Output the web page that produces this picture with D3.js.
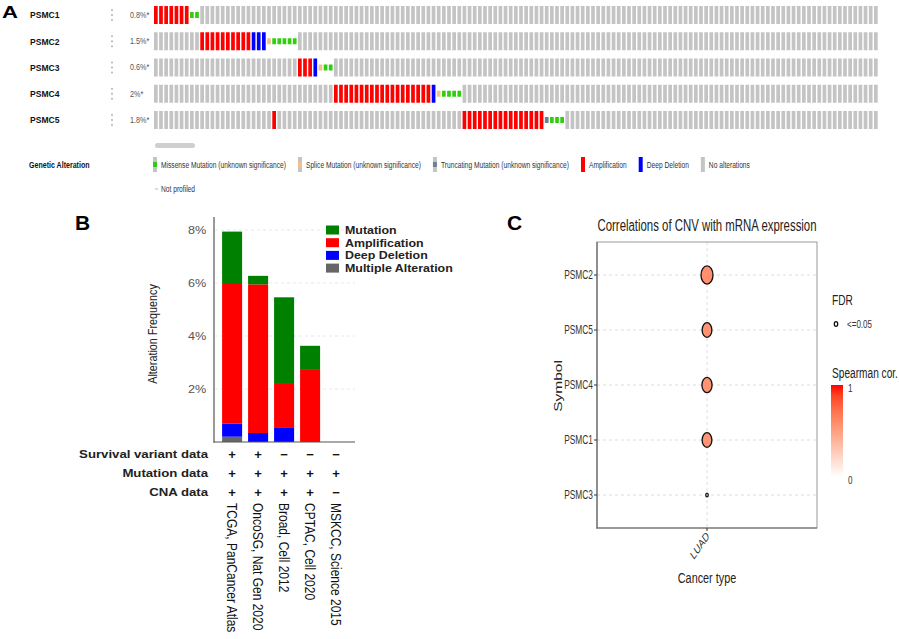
<!DOCTYPE html>
<html><head><meta charset="utf-8">
<script src="https://cdn.jsdelivr.net/npm/d3@7"></script>
<style>
body{margin:0;background:#fff}
svg{display:block;font-family:"Liberation Sans",Arial,Helvetica,sans-serif}
</style></head><body>
<script>
// ---- panel A data (oncoprint) ----
var genes = ['PSMC1','PSMC2','PSMC3','PSMC4','PSMC5'];
var genePct = ['0.8%*','1.5%*','0.6%*','2%*','1.8%*'];
var nSamples = 141;
// runs of altered samples per gene: [type, first sample, last sample]
var psmc1Runs = [['amp',0,6],['mis',7,8]];
var psmc2Runs = [['amp',9,18],['del',19,21],['spl',22,22],['mis',23,27]];
var psmc3Runs = [['amp',28,30],['del',31,31],['spl',32,32],['mis',33,34]];
var psmc4Runs = [['amp',35,53],['del',54,54],['spl',55,55],['mis',56,59]];
var psmc5Runs = [['amp',23,23],['amp',60,75],['trunc',76,76],['mis',77,79]];
var legendA = ['Missense Mutation (unknown significance)','Splice Mutation (unknown significance)','Truncating Mutation (unknown significance)','Amplification','Deep Deletion','No alterations'];

// ---- panel B data (cancer types summary) ----
var studies = ['TCGA, PanCancer Atlas','OncoSG, Nat Gen 2020','Broad, Cell 2012','CPTAC, Cell 2020','MSKCC, Science 2015'];
var multipleFreq = [0.2,0,0,0,0];
var deletionFreq = [0.5,0.34,0.53,0,0];
var ampFreq = [5.3,5.61,1.66,2.72,0];
var mutFreq = [1.94,0.32,3.27,0.91,0];
var freqTicks = [2,4,6,8];
var survivalData = ['+','+','\u2212','\u2212','\u2212'];
var mutationData = ['+','+','+','+','+'];
var cnaData = ['+','+','+','+','\u2212'];

// ---- panel C data (CNV vs mRNA) ----
var corGenes = ['PSMC2','PSMC5','PSMC4','PSMC1','PSMC3'];
var cancerTypes = ['LUAD'];
var spearman = [0.58,0.56,0.56,0.55,0.2];
var negLogFdr = [30,19.8,21.5,19.8,1.3];

var altColor = {amp:'#ff0000', del:'#0000ff', mis:'#2fcf10', spl:'#f5c08c', trunc:'#708090', none:'#c4c4c4'};

var svg = d3.select('body').append('svg').attr('width',899).attr('height',639);

// text with a horizontal squeeze/stretch, like the source figure
function label(g, x, y, s, sx, rot) {
	return g.append('text')
		.attr('transform','translate(' + x + ',' + y + ') scale(' + sx + ',1)' + (rot ? ' rotate(' + rot + ')' : ''))
		.text(s);
}

// ================= A =================
label(svg, 2, 18, 'A', 1.3).attr('font-size',17).attr('font-weight','bold');

var col = d3.scaleBand().domain(d3.range(nSamples)).range([154,877.7]).paddingInner(0.28);
var row = d3.scaleBand().domain(genes).range([1.9,133.1]).paddingInner(0.314).paddingOuter(0.157);

var runs = [psmc1Runs,psmc2Runs,psmc3Runs,psmc4Runs,psmc5Runs];
var cells = [];
genes.forEach(function(g,i){
	var byS = {};
	runs[i].forEach(function(r){ d3.range(r[1],r[2]+1).forEach(function(s){ byS[s] = r[0]; }); });
	d3.range(nSamples).forEach(function(s){ cells.push({gene:g, s:s, type:byS[s] || 'none'}); });
});

var pa = svg.append('g');
pa.selectAll('rect.cell').data(cells).enter().append('rect')
	.attr('class','cell')
	.attr('x',function(d){ return col(d.s); })
	.attr('width',col.bandwidth())
	.attr('y',function(d){ var full = d.type=='amp'||d.type=='del'||d.type=='none'; return full ? row(d.gene) : row(d.gene) + row.bandwidth()/3; })
	.attr('height',function(d){ var full = d.type=='amp'||d.type=='del'||d.type=='none'; return full ? row.bandwidth() : row.bandwidth()/3; })
	.attr('fill',function(d){ return altColor[d.type]; });

genes.forEach(function(g,i){
	var cy = row(g) + row.bandwidth()/2;
	label(pa, 30, cy, g, 0.92).attr('dy','0.35em').attr('font-size',9.3).attr('font-weight','bold').attr('fill','#111');
	label(pa, 130, cy, genePct[i], 0.85).attr('dy','0.35em').attr('font-size',8.5).attr('fill','#555');
	[-5,0,5].forEach(function(o){ pa.append('circle').attr('cx',112).attr('cy',cy+o).attr('r',0.9).attr('fill','#aaa'); });
});

pa.append('rect').attr('x',155).attr('y',143).attr('width',40).attr('height',5).attr('rx',2.5).attr('fill','#cfcfcf');

label(pa, 29, 165, 'Genetic Alteration', 0.76).attr('dy','0.35em').attr('font-size',9.3).attr('font-weight','bold').attr('fill','#111');
var lx = 153, legendTypes = ['mis','spl','trunc','amp','del','none'];
legendA.forEach(function(t,i){
	var ty = legendTypes[i];
	if (ty=='amp'||ty=='del'||ty=='none') {
		pa.append('rect').attr('x',lx).attr('y',157).attr('width',4).attr('height',15).attr('fill',altColor[ty]);
	} else {
		pa.append('rect').attr('x',lx).attr('y',157).attr('width',4).attr('height',15).attr('fill',altColor.none);
		pa.append('rect').attr('x',lx).attr('y',162).attr('width',4).attr('height',5).attr('fill',altColor[ty]);
	}
	var tx = label(pa, lx+8, 165, t, 0.74).attr('dy','0.35em').attr('font-size',9).attr('fill','#333');
	lx = lx + 8 + tx.node().getComputedTextLength()*0.74 + 12;
});
pa.append('rect').attr('x',155).attr('y',188.5).attr('width',3).attr('height',1).attr('fill','#bbb');
label(pa, 161, 189, 'Not profiled', 0.74).attr('dy','0.35em').attr('font-size',9).attr('fill','#333');

// ================= B =================
label(svg, 75, 230, 'B', 1).attr('font-size',21).attr('font-weight','bold');
var pb = svg.append('g');
var bx = d3.scaleBand().domain(studies).range([213,355.2]).paddingInner(0.23).paddingOuter(0.35);
var by = d3.scaleLinear().domain([0,8]).range([442,230]);

pb.selectAll('line.grid').data(freqTicks).enter().append('line')
	.attr('x1',215).attr('x2',355).attr('y1',by).attr('y2',by)
	.attr('stroke','#e8e8e8').attr('stroke-dasharray','3,3');

var stackRows = studies.map(function(s,i){
	return {study:s, multiple:multipleFreq[i], deletion:deletionFreq[i], amplification:ampFreq[i], mutation:mutFreq[i]};
});
var keys = ['multiple','deletion','amplification','mutation'];
var keyColor = {mutation:'#008000', amplification:'#ff0000', deletion:'#0000ff', multiple:'#666666'};
var keyName = {mutation:'Mutation', amplification:'Amplification', deletion:'Deep Deletion', multiple:'Multiple Alteration'};
var stacked = d3.stack().keys(keys)(stackRows);

pb.selectAll('g.layer').data(stacked).enter().append('g')
	.attr('fill',function(d){ return keyColor[d.key]; })
	.selectAll('rect').data(function(d){ return d; }).enter().append('rect')
	.attr('x',function(d){ return bx(d.data.study); })
	.attr('width',bx.bandwidth())
	.attr('y',function(d){ return by(d[1]); })
	.attr('height',function(d){ return by(d[0]) - by(d[1]); });

var yAxis = pb.append('g').attr('transform','translate(214,0)')
	.call(d3.axisLeft(by).tickValues(freqTicks).tickSize(0).tickPadding(7).tickFormat(function(d){ return d + '%'; }));
yAxis.select('.domain').remove();
yAxis.selectAll('text').attr('font-size',11.5).attr('fill','#555').attr('font-family','Liberation Sans, Arial, sans-serif')
	.attr('transform','scale(1.1,1)');

pb.append('line').attr('x1',214).attr('x2',214).attr('y1',217).attr('y2',442.5).attr('stroke','#555').attr('stroke-width',1.2);
pb.append('line').attr('x1',213.4).attr('x2',355).attr('y1',442).attr('y2',442).attr('stroke','#555').attr('stroke-width',1.2);

label(pb, 157, 334, 'Alteration Frequency', 1.1, -90).attr('text-anchor','middle').attr('font-size',10.8).attr('fill','#222');

['mutation','amplification','deletion','multiple'].forEach(function(k,i){
	var cy = 230 + i*12.7;
	pb.append('rect').attr('x',326).attr('y',cy-4.5).attr('width',13).attr('height',9).attr('fill',keyColor[k]);
	label(pb, 345, cy, keyName[k], 1.08).attr('dy','0.35em').attr('font-size',11.5).attr('font-weight','bold').attr('fill','#222');
});

var tableRows = [['Survival variant data',survivalData],['Mutation data',mutationData],['CNA data',cnaData]];
tableRows.forEach(function(r,i){
	var cy = 454 + i*19;
	label(pb, 208, cy, r[0], 1.2).attr('dy','0.35em').attr('text-anchor','end').attr('font-size',11).attr('font-weight','bold').attr('fill','#222');
	studies.forEach(function(s,j){
		pb.append('text').attr('x',bx(s)+bx.bandwidth()/2).attr('y',cy).attr('dy','0.35em')
			.attr('text-anchor','middle').attr('font-size',13).attr('font-weight','bold').attr('fill','#111').text(r[1][j]);
	});
});
studies.forEach(function(s){
	label(pb, bx(s)+bx.bandwidth()/2, 503, s, 1.25, 90).attr('dy','0.35em').attr('font-size',12).attr('fill','#111');
});

// ================= C =================
label(svg, 507, 230, 'C', 1).attr('font-size',21).attr('font-weight','bold');
var pc = svg.append('g');
var sxC = 0.7;
var cx = d3.scalePoint().domain(cancerTypes).range([597,817]).padding(0.5);
var cy = d3.scalePoint().domain(corGenes).range([242,528]).padding(0.6);
var rr = d3.scaleSqrt().domain([0,30]).range([0,9.1]);
var corColor = d3.scaleLinear().domain([0,1]).range(['#ffffff','#ff0000']).interpolate(d3.interpolateLab);

label(pc, 707, 231, 'Correlations of CNV with mRNA expression', sxC).attr('text-anchor','middle').attr('font-size',16.3).attr('fill','#222');

pc.selectAll('line.hg').data(corGenes).enter().append('line')
	.attr('x1',597).attr('x2',817).attr('y1',cy).attr('y2',cy)
	.attr('stroke','#dcdcdc').attr('stroke-dasharray','3,3');
pc.selectAll('line.vg').data(cancerTypes).enter().append('line')
	.attr('x1',cx).attr('x2',cx).attr('y1',242).attr('y2',528)
	.attr('stroke','#dcdcdc').attr('stroke-dasharray','3,3');
pc.append('rect').attr('x',597).attr('y',242).attr('width',220).attr('height',286)
	.attr('fill','none').attr('stroke','#999').attr('stroke-width',1);
pc.append('line').attr('x1',597).attr('x2',597).attr('y1',242).attr('y2',528.5).attr('stroke','#666').attr('stroke-width',1.2);
pc.append('line').attr('x1',596.5).attr('x2',817).attr('y1',528).attr('y2',528).attr('stroke','#666').attr('stroke-width',1.2);

var points = corGenes.map(function(g,i){ return {gene:g, type:cancerTypes[0], cor:spearman[i], fdr:negLogFdr[i]}; });
pc.selectAll('ellipse.pt').data(points).enter().append('ellipse')
	.attr('cx',function(d){ return cx(d.type); })
	.attr('cy',function(d){ return cy(d.gene); })
	.attr('ry',function(d){ return rr(d.fdr); })
	.attr('rx',function(d){ return rr(d.fdr)*0.66; })
	.attr('fill',function(d){ return corColor(d.cor); })
	.attr('stroke','#111').attr('stroke-width',1.3);

corGenes.forEach(function(g){
	pc.append('line').attr('x1',594).attr('x2',597).attr('y1',cy(g)).attr('y2',cy(g)).attr('stroke','#333');
	label(pc, 593, cy(g), g, 0.68).attr('dy','0.35em').attr('text-anchor','end').attr('font-size',12.3).attr('fill','#333');
});
cancerTypes.forEach(function(t){
	pc.append('line').attr('x1',cx(t)).attr('x2',cx(t)).attr('y1',528).attr('y2',531).attr('stroke','#333');
	label(pc, cx(t)+3, 537, t, 0.7, -45).attr('text-anchor','end').attr('font-size',12.3).attr('fill','#333');
});
label(pc, 707, 583, 'Cancer type', sxC).attr('text-anchor','middle').attr('font-size',15.5).attr('fill','#222');
label(pc, 562, 386, 'Symbol', sxC, -90).attr('text-anchor','middle').attr('font-size',15.5).attr('fill','#222');

label(pc, 832, 305, 'FDR', sxC).attr('font-size',14.5).attr('fill','#222');
pc.append('ellipse').attr('cx',836).attr('cy',324).attr('rx',1.7).attr('ry',2.4).attr('fill','#fff').attr('stroke','#111').attr('stroke-width',1.3);
label(pc, 847, 324, '<=0.05', sxC).attr('dy','0.35em').attr('font-size',11.5).attr('fill','#333');

label(pc, 832, 378, 'Spearman cor.', sxC).attr('font-size',14.5).attr('fill','#222');
var grad = svg.append('defs').append('linearGradient').attr('id','corgrad').attr('x1',0).attr('x2',0).attr('y1',1).attr('y2',0);
d3.range(0,1.01,0.1).forEach(function(t){ grad.append('stop').attr('offset',t).attr('stop-color',corColor(t)); });
var gs = d3.scaleLinear().domain([0,1]).range([477,385]);
pc.append('rect').attr('x',831).attr('y',gs(1)).attr('width',12).attr('height',gs(0)-gs(1)).attr('fill','url(#corgrad)');
[1,0].forEach(function(v){
	label(pc, 848, gs(v)+2.5, String(v), sxC).attr('dy','0.35em').attr('font-size',11.5).attr('fill','#333');
});
</script>
</body></html>
